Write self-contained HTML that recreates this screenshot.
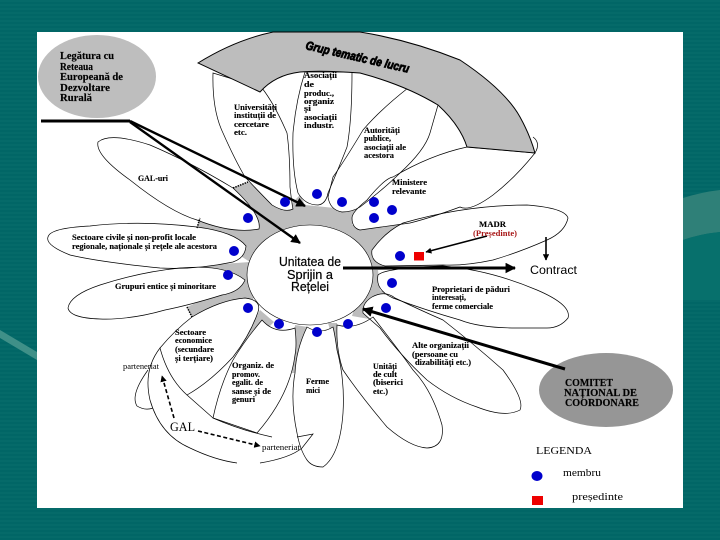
<!DOCTYPE html>
<html><head><meta charset="utf-8">
<style>
html,body{margin:0;padding:0;width:720px;height:540px;overflow:hidden;background:#006666}
svg{display:block;filter:blur(.3px)}
text{font-family:"Liberation Serif",serif;fill:#000}
.s{font-size:8px;font-weight:bold;stroke:#000;stroke-width:.12}
.m{font-size:10px;font-weight:bold;stroke:#000;stroke-width:.15}
.c{font-family:"Liberation Sans",sans-serif;font-size:13px;stroke:#000;stroke-width:.2}
</style></head><body>
<svg width="720" height="540" viewBox="0 0 720 540" xmlns="http://www.w3.org/2000/svg">
<defs>
<pattern id="st" width="6" height="4" patternUnits="userSpaceOnUse"><rect width="6" height="2" fill="#056a69"/><rect y="2" width="6" height="2" fill="#016666"/></pattern>
<g id="pet">
<path d="M233,188 Q190,162 150,145 Q110,132 98,142 Q95,155 130,180 Q170,212 197,220 Q232,234 259,229 Q262,215 233,188Z"/>
<path d="M48,237 Q50,228 90,226 Q140,220 197,227 Q235,232 246,246 Q245,258 233,262 Q195,270 160,268 Q100,262 70,255 Q45,245 48,237Z"/>
<path d="M68,308 Q70,295 100,285 Q140,272 180,268 Q225,264 245,280 Q240,292 222,295 Q190,305 165,310 Q130,320 100,319 Q70,318 68,308Z"/>
<path d="M192,317 Q220,300 245,298 Q262,300 258,312 Q250,335 233,357 Q210,382 187,395 Q168,378 160,348 Q175,330 192,317Z"/>
<path d="M262,320 Q275,335 295,328 Q297,345 295,355 Q290,395 257,433 L213,418 Q220,385 233,360 Q245,340 262,320Z"/>
<path d="M307,327 Q296,350 295,373 Q290,400 297,433 Q300,450 307,460 Q312,467 323,467 Q340,455 343,413 Q345,380 337,350 Q335,335 333,327 Q320,335 307,327Z"/>
<path d="M337,325 Q336,350 343,370 Q360,395 387,427 Q410,447 427,448 Q445,447 442,425 Q432,390 413,370 Q395,345 373,317 Q355,330 337,325Z"/>
<path d="M372,297 Q385,290 395,298 Q420,310 443,320 Q475,345 503,370 Q525,400 520,410 Q505,418 477,407 Q450,398 427,380 Q400,355 380,328 Q365,315 363,313 Q362,303 372,297Z"/>
<path d="M393,298 Q375,290 378,275 Q385,268 443,266 Q490,270 537,290 Q572,305 568,318 Q560,328 547,328 L517,328 Q480,328 460,320 Q425,310 393,298Z"/>
<path d="M372,250 Q385,232 403,223 Q465,205 527,205 Q565,208 568,218 Q565,232 547,240 Q520,252 493,260 Q465,266 443,265 L385,266 Q370,262 372,250Z"/>
<path d="M352,218 Q352,212 367,200 Q385,178 393,177 Q430,155 467,147 L535,153 Q515,178 493,195 Q470,212 460,207 Q430,218 410,223 L360,230 Q352,228 352,218Z"/>
<path d="M408,88 Q380,110 363,130 Q345,160 333,177 L328,197 Q330,210 342,212 Q352,212 360,207 Q385,188 400,173 Q425,150 430,133 L438,105Z"/>
<path d="M305,72 Q296,100 293,133 Q292,170 298,193 Q305,205 318,205 Q326,204 328,193 Q340,165 347,147 Q352,120 352,72Z"/>
<path d="M213,73 Q212,110 223,133 Q235,160 245,177 Q262,195 272,205 Q285,213 293,209 Q292,205 290,187 Q290,155 287,133 Q275,105 262,88Z"/>
</g>
<marker id="a" viewBox="0 0 10 10" refX="9" refY="5" markerWidth="4" markerHeight="4" orient="auto"><path d="M0,0 L10,5 L0,10Z" fill="#000"/></marker>
<marker id="b" viewBox="0 0 10 10" refX="9" refY="5" markerWidth="3.5" markerHeight="3.5" orient="auto"><path d="M0,0 L10,5 L0,10Z" fill="#000"/></marker>
</defs>

<rect width="720" height="540" fill="url(#st)"/>
<path d="M683,198 Q702,192 720,190 L720,232 Q700,234 683,240Z" fill="#2f8078"/>
<path d="M0,330 L37,352 L37,360 L0,338Z" fill="#3f9088"/>
<path d="M683,240 Q700,234 720,232 L720,300 L683,300Z" fill="#07706c"/>
<rect x="37" y="32" width="646" height="476" fill="#fff"/>

<path fill="#bdbdbd" d="M233,188 L248,182 L290,205 L300,195 L305,205 L335,208 L357,205 L352,225 L405,222 L372,250 L372,258 L443,264 L443,268 L378,270 L380,290 L393,298 L372,298 L363,313 L375,320 L352,316 L360,290 L310,240 L260,290 L252,300 L243,298 L192,317 L187,307 L245,280 L180,267 L250,262 L197,228 L200,218Z"/>
<polygon fill="#bdbdbd" points="260,310 274,322 240,355 235,357"/>
<polygon fill="#bdbdbd" points="295,325 308,327 296,373 292,373"/>
<polygon fill="#bdbdbd" points="328,323 337,323 337,347 347,370 342,370"/>

<use href="#pet" fill="#fff" stroke="none"/>
<use href="#pet" fill="none" stroke="#000" stroke-width=".7"/>

<g fill="none" stroke="#000" stroke-width=".7">
<path d="M187,395 L213,418 Q240,430 272,437"/>
<path d="M160,348 Q143,370 150,400 Q160,435 190,448 Q215,460 237,463"/>
<path d="M260,463 Q290,458 302,448 L313,434 L297,437"/>
<path d="M148,370 Q130,395 137,406 Q145,411 153,408"/>
<path d="M533,137 Q541,143 535,153"/>
</g>
<path d="M233,188 L248,182 M187,307 L192,317 M197,228 L200,218" stroke="#000" stroke-width="1.5" stroke-dasharray="1.5 1" fill="none"/>

<ellipse cx="310" cy="275" rx="63" ry="50" fill="#fff" stroke="#000" stroke-width=".6"/>

<path d="M198,63 Q235,40 273,32 L360,32 Q410,40 460,60 Q505,90 520,117 Q530,135 535,153 L467,147 Q460,125 438,105 Q405,85 360,73 Q320,70 300,72 Q275,75 260,92Z" fill="#bdbdbd" stroke="#000" stroke-width="1"/>
<text transform="translate(305,49) rotate(13)" font-size="12" font-weight="bold" font-style="italic" textLength="106" lengthAdjust="spacingAndGlyphs" style='font-family:"Liberation Sans",sans-serif;stroke:#000;stroke-width:.8'>Grup tematic de lucru</text>

<ellipse cx="97" cy="76.5" rx="59" ry="41.5" fill="#bebebe"/>
<ellipse cx="606" cy="390" rx="67" ry="37" fill="#969696"/>

<g fill="none" stroke="#000">
<path d="M41,121 L130,121" stroke-width="3"/>
<path d="M130,121 L305,206" stroke-width="2.4" marker-end="url(#a)"/>
<path d="M130,122 L300,243" stroke-width="2.4" marker-end="url(#a)"/>
<path d="M343,268 L515,268" stroke-width="3" marker-end="url(#b)"/>
<path d="M546,237 L546,260" stroke-width="1.6" marker-end="url(#a)"/>
<path d="M565,369 L363,309" stroke-width="3" marker-end="url(#b)"/>
<path d="M487,236 L426,252" stroke-width="1.5" marker-end="url(#a)"/>
<path d="M174,418 L162,376" stroke-width="1.6" stroke-dasharray="4 2.5" marker-end="url(#a)"/>
<path d="M198,431 L260,446" stroke-width="1.6" stroke-dasharray="4 2.5" marker-end="url(#a)"/>
</g>

<g fill="#0000cc">
<ellipse cx="285" cy="202" rx="5" ry="5"/><ellipse cx="317" cy="194" rx="5" ry="5"/><ellipse cx="342" cy="202" rx="5" ry="5"/>
<ellipse cx="374" cy="202" rx="5" ry="5"/><ellipse cx="392" cy="210" rx="5" ry="5"/><ellipse cx="374" cy="218" rx="5" ry="5"/>
<ellipse cx="248" cy="218" rx="5" ry="5"/><ellipse cx="234" cy="251" rx="5" ry="5"/><ellipse cx="228" cy="275" rx="5" ry="5"/>
<ellipse cx="248" cy="308" rx="5" ry="5"/><ellipse cx="279" cy="324" rx="5" ry="5"/><ellipse cx="317" cy="332" rx="5" ry="5"/>
<ellipse cx="348" cy="324" rx="5" ry="5"/><ellipse cx="400" cy="256" rx="5" ry="5"/><ellipse cx="392" cy="283" rx="5" ry="5"/>
<ellipse cx="386" cy="308" rx="5" ry="5"/><ellipse cx="537" cy="476" rx="5.5" ry="5"/>
</g>
<rect x="414" y="252" width="10" height="8.5" fill="#ee0000"/>
<rect x="532" y="496" width="11" height="9" fill="#ee0000"/>

<text x="60" y="59" class="m" textLength="54" lengthAdjust="spacingAndGlyphs">Legătura cu</text>
<text x="60" y="70" class="m" textLength="33" lengthAdjust="spacingAndGlyphs">Reteaua</text>
<text x="60" y="80" class="m" textLength="63" lengthAdjust="spacingAndGlyphs">Europeană de</text>
<text x="60" y="91" class="m" textLength="50" lengthAdjust="spacingAndGlyphs">Dezvoltare</text>
<text x="60" y="101" class="m" textLength="32" lengthAdjust="spacingAndGlyphs">Rurală</text>
<text x="565" y="386" class="m" textLength="48" lengthAdjust="spacingAndGlyphs">COMITET</text>
<text x="564" y="396" class="m" textLength="73" lengthAdjust="spacingAndGlyphs">NAȚIONAL DE</text>
<text x="565" y="406" class="m" textLength="74" lengthAdjust="spacingAndGlyphs">COORDONARE</text>

<text class="s" x="234" y="110" textLength="43" lengthAdjust="spacingAndGlyphs">Universități</text>
<text class="s" x="234" y="118" textLength="42" lengthAdjust="spacingAndGlyphs">instituții de</text>
<text class="s" x="234" y="127" textLength="35" lengthAdjust="spacingAndGlyphs">cercetare</text>
<text class="s" x="234" y="135" textLength="13" lengthAdjust="spacingAndGlyphs">etc.</text>

<text class="s" x="304" y="78" textLength="33" lengthAdjust="spacingAndGlyphs">Asociații</text>
<text class="s" x="304" y="87" textLength="10" lengthAdjust="spacingAndGlyphs">de</text>
<text class="s" x="304" y="96" textLength="30" lengthAdjust="spacingAndGlyphs">produc.,</text>
<text class="s" x="304" y="104" textLength="30" lengthAdjust="spacingAndGlyphs">organiz</text>
<text class="s" x="304" y="111" textLength="7" lengthAdjust="spacingAndGlyphs">și</text>
<text class="s" x="304" y="120" textLength="33" lengthAdjust="spacingAndGlyphs">asociații</text>
<text class="s" x="304" y="128" textLength="30" lengthAdjust="spacingAndGlyphs">industr.</text>

<text class="s" x="364" y="133" textLength="36" lengthAdjust="spacingAndGlyphs">Autorități</text>
<text class="s" x="364" y="141" textLength="27" lengthAdjust="spacingAndGlyphs">publice,</text>
<text class="s" x="364" y="150" textLength="42" lengthAdjust="spacingAndGlyphs">asociații ale</text>
<text class="s" x="364" y="158" textLength="30" lengthAdjust="spacingAndGlyphs">acestora</text>

<text class="s" x="392" y="185" textLength="35" lengthAdjust="spacingAndGlyphs">Ministere</text>
<text class="s" x="392" y="194" textLength="34" lengthAdjust="spacingAndGlyphs">relevante</text>

<text class="s" x="138" y="181" textLength="30" lengthAdjust="spacingAndGlyphs">GAL-uri</text>
<text class="s" x="72" y="240" textLength="124" lengthAdjust="spacingAndGlyphs">Sectoare civile și non-profit locale</text>
<text class="s" x="72" y="249" textLength="145" lengthAdjust="spacingAndGlyphs">regionale, naționale și rețele ale acestora</text>
<text class="s" x="115" y="289" textLength="101" lengthAdjust="spacingAndGlyphs">Grupuri entice și minoritare</text>

<text class="s" x="175" y="335" textLength="31" lengthAdjust="spacingAndGlyphs">Sectoare</text>
<text class="s" x="175" y="343" textLength="37" lengthAdjust="spacingAndGlyphs">economice</text>
<text class="s" x="175" y="352" textLength="39" lengthAdjust="spacingAndGlyphs">(secundare</text>
<text class="s" x="175" y="361" textLength="38" lengthAdjust="spacingAndGlyphs">și terțiare)</text>

<text x="123" y="369" font-size="8" textLength="36" lengthAdjust="spacingAndGlyphs">parteneriat</text>

<text class="s" x="232" y="368" textLength="42" lengthAdjust="spacingAndGlyphs">Organiz. de</text>
<text class="s" x="232" y="377" textLength="28" lengthAdjust="spacingAndGlyphs">promov.</text>
<text class="s" x="232" y="385" textLength="31" lengthAdjust="spacingAndGlyphs">egalit. de</text>
<text class="s" x="232" y="394" textLength="39" lengthAdjust="spacingAndGlyphs">sanse și de</text>
<text class="s" x="232" y="402" textLength="23" lengthAdjust="spacingAndGlyphs">genuri</text>

<text class="s" x="306" y="384" textLength="23" lengthAdjust="spacingAndGlyphs">Ferme</text>
<text class="s" x="306" y="393" textLength="14" lengthAdjust="spacingAndGlyphs">mici</text>

<text class="s" x="373" y="369" textLength="24" lengthAdjust="spacingAndGlyphs">Unități</text>
<text class="s" x="373" y="377" textLength="24" lengthAdjust="spacingAndGlyphs">de cult</text>
<text class="s" x="373" y="385" textLength="30" lengthAdjust="spacingAndGlyphs">(biserici</text>
<text class="s" x="373" y="394" textLength="15" lengthAdjust="spacingAndGlyphs">etc.)</text>

<text class="s" x="412" y="348" textLength="57" lengthAdjust="spacingAndGlyphs">Alte organizații</text>
<text class="s" x="412" y="357" textLength="46" lengthAdjust="spacingAndGlyphs">(persoane cu</text>
<text class="s" x="415" y="365" textLength="56" lengthAdjust="spacingAndGlyphs">dizabilități etc.)</text>

<text class="s" x="432" y="292" textLength="78" lengthAdjust="spacingAndGlyphs">Proprietari de păduri</text>
<text class="s" x="432" y="300" textLength="34" lengthAdjust="spacingAndGlyphs">interesați,</text>
<text class="s" x="432" y="309" textLength="61" lengthAdjust="spacingAndGlyphs">ferme comerciale</text>

<text class="s" x="479" y="227" textLength="27" lengthAdjust="spacingAndGlyphs">MADR</text>
<text x="473" y="236" font-size="8" font-weight="bold" textLength="44" lengthAdjust="spacingAndGlyphs" style="fill:#a81818">(Președinte)</text>

<text x="262" y="450" font-size="8" textLength="38" lengthAdjust="spacingAndGlyphs">parteneriat</text>

<text class="c" x="279" y="266" textLength="62" lengthAdjust="spacingAndGlyphs">Unitatea de</text>
<text class="c" x="287" y="279" textLength="46" lengthAdjust="spacingAndGlyphs">Sprijin a</text>
<text class="c" x="291" y="291" textLength="38" lengthAdjust="spacingAndGlyphs">Rețelei</text>

<text x="530" y="274" font-size="12" textLength="47" lengthAdjust="spacingAndGlyphs" style='font-family:"Liberation Sans",sans-serif'>Contract</text>
<text x="170" y="431" font-size="13" textLength="25" lengthAdjust="spacingAndGlyphs">GAL</text>
<text x="536" y="454" font-size="11" textLength="56" lengthAdjust="spacingAndGlyphs">LEGENDA</text>
<text x="563" y="476" font-size="11" textLength="38" lengthAdjust="spacingAndGlyphs">membru</text>
<text x="572" y="500" font-size="11" textLength="51" lengthAdjust="spacingAndGlyphs">președinte</text>
</svg>
</body></html>
